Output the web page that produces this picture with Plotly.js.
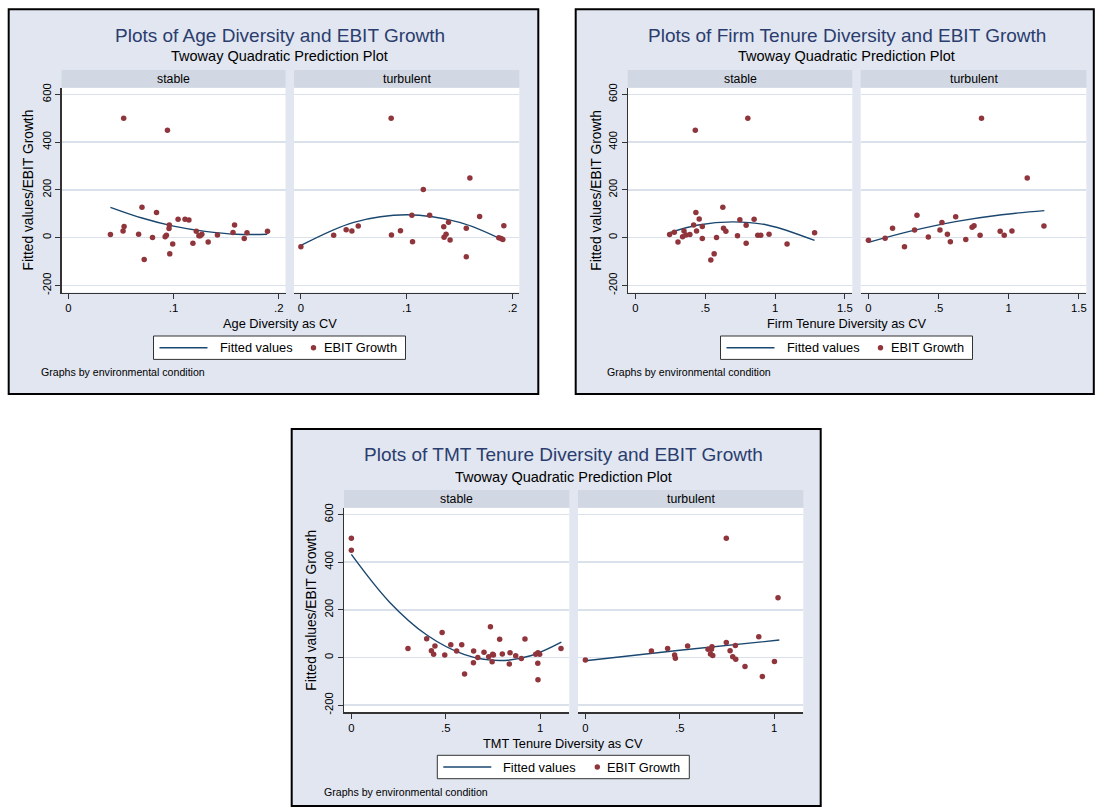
<!DOCTYPE html>
<html>
<head>
<meta charset="utf-8">
<script src="https://cdn.plot.ly/plotly-3.0.1.min.js"></script>
<style>
  html, body { margin: 0; padding: 0; background: #ffffff; }
  #chart { width: 1095px; height: 809px; }
</style>
</head>
<body>
<div id="chart"></div>
<script>
// ---------------- data ----------------
// Age diversity (CV) vs EBIT growth
const ageStableX = [0.040, 0.0526, 0.052, 0.053, 0.070, 0.0668, 0.0721, 0.0838, 0.080, 0.0942, 0.092, 0.0932, 0.096, 0.0957, 0.0992, 0.0964, 0.1043, 0.1109, 0.1146, 0.1216, 0.1184, 0.1241, 0.1269, 0.1254, 0.1329, 0.1417, 0.1565, 0.158, 0.1698, 0.1672, 0.1893];
const ageStableY = [13, 500, 28, 47, 127, 14, -92, 105, 0, 450, 4, 10, 53, 38, -27, -68, 77, 77, 74, 27, -24, 8, 14, 8, -18, 11, 21, 53, 20, -4, 27];
const ageStableFitX = [0.040, 0.070, 0.100, 0.130, 0.160, 0.189];
const ageStableFitY = [127, 82, 48, 26, 14, 14];

const ageTurbX = [0, 0.031, 0.0428, 0.0482, 0.0542, 0.0853, 0.0856, 0.0941, 0.1049, 0.1055, 0.1157, 0.1217, 0.135, 0.1395, 0.1353, 0.1372, 0.141, 0.1563, 0.1597, 0.1563, 0.1689, 0.187, 0.1892, 0.1908, 0.1918];
const ageTurbY = [-38, 10, 33, 28, 49, 500, 11, 29, 94, -17, 201, 94, 45, 64, 1, 14, -10, 39, 250, -80, 88, -1, -4, -8, 50];
const ageTurbFitX = [0, 0.05, 0.10, 0.15, 0.19];
const ageTurbFitY = [-33, 64, 96, 64, -8];

// Firm tenure diversity (CV) vs EBIT growth
const firmStableX = [0.245, 0.279, 0.305, 0.338, 0.348, 0.362, 0.39, 0.417, 0.429, 0.433, 0.438, 0.457, 0.479, 0.479, 0.54, 0.564, 0.581, 0.626, 0.631, 0.648, 0.731, 0.748, 0.793, 0.793, 0.805, 0.85, 0.876, 0.898, 0.957, 1.086, 1.283];
const firmStableY = [13, 22, -18, 4, 28, 11, 13, 53, 450, 105, 28, 78, 47, -4, -94, -68, 0, 127, 39, 27, 8, 75, 52, -24, 500, 77, 10, 10, 14, -27, 20];
const firmStableFitX = [0.245, 0.45, 0.70, 0.95, 1.283];
const firmStableFitY = [21, 53, 66, 52, -12];

const firmTurbX = [0, 0.119, 0.172, 0.257, 0.329, 0.346, 0.427, 0.51, 0.524, 0.563, 0.584, 0.622, 0.694, 0.739, 0.753, 0.796, 0.806, 0.939, 0.968, 1.023, 1.132, 1.251];
const firmTurbY = [-11, -3, 39, -38, 32, 94, 3, 32, 63, 14, -17, 87, -8, 43, 50, 10, 500, 27, 10, 28, 250, 49];
const firmTurbFitX = [0, 0.30, 0.62, 0.95, 1.254];
const firmTurbFitY = [-20, 27, 67, 96, 113];

// TMT tenure diversity (CV) vs EBIT growth
const tmtStableX = [0, 0, 0.30, 0.399, 0.424, 0.436, 0.443, 0.481, 0.495, 0.527, 0.558, 0.585, 0.60, 0.648, 0.647, 0.67, 0.703, 0.728, 0.737, 0.749, 0.746, 0.753, 0.786, 0.80, 0.837, 0.841, 0.871, 0.901, 0.92, 0.977, 0.988, 0.989, 0.989, 0.998, 1.111];
const tmtStableY = [500, 450, 38, 78, 28, 13, 48, 105, 10, 53, 27, 53, -69, 27, -22, 0, 22, 3, 129, 13, -18, 10, 76, 15, -27, 20, 7, -4, 77, 13, -24, -94, 20, 13, 38];
const tmtStableFitX = [0, 0.2, 0.4, 0.6, 0.785, 0.95, 1.113];
const tmtStableFitY = [432, 234, 94, 12, -13, 7, 64];

const tmtTurbX = [0, 0.35, 0.436, 0.473, 0.477, 0.542, 0.65, 0.663, 0.671, 0.668, 0.675, 0.747, 0.747, 0.767, 0.795, 0.781, 0.797, 0.846, 0.919, 0.938, 1.002, 1.021];
const tmtTurbY = [-11, 27, 38, 10, -3, 48, 34, 15, 45, 34, 8, 500, 63, 28, 50, 3, -8, -38, 87, -80, -17, 250];
const tmtTurbFitX = [0, 0.5, 1.028];
const tmtTurbFitY = [-14, 30, 73];

// ticks and labels
const yTickVals = [-200, 0, 200, 400, 600];
const yTickText = ['-200', '0', '200', '400', '600'];
const ageTickVals = [0, 0.1, 0.2];
const ageTickText = ['0', '.1', '.2'];
const firmTickVals = [0, 0.5, 1, 1.5];
const firmTickText = ['0', '.5', '1', '1.5'];
const tmtTickVals = [0, 0.5, 1];
const tmtTickText = ['0', '.5', '1'];
const conditions = ['stable', 'turbulent'];
const seriesNames = ['Fitted values', 'EBIT Growth'];
const panelTitles = ['Plots of Age Diversity and EBIT Growth', 'Plots of Firm Tenure Diversity and EBIT Growth', 'Plots of TMT Tenure Diversity and EBIT Growth'];
const xTitles = ['Age Diversity as CV', 'Firm Tenure Diversity as CV', 'TMT Tenure Diversity as CV'];
const subtitle = 'Twoway Quadratic Prediction Plot';
const yTitle = 'Fitted values/EBIT Growth';
const byNote = 'Graphs by environmental condition';

// ---------------- styling / geometry ----------------
const W = 1095, H = 809;
const FONT = 'Liberation Sans, Arial, Helvetica, sans-serif';
const BG = '#e1e6f0', STRIP = '#d2d8e3', GRID = '#dbe1eb';
const AXIS = '#333333', TITLE = '#2b3d6e';
const LINE = '#1a476f', DOT = '#90353b';
const px = v => v / W;
const py = v => 1 - v / H;

const panels = [
  { box: [8.7, 9.3, 538.3, 394], cx: 279.5, titleY: 35, subY: 56, stripTop: 70, top: 87.7, bottom: 292.5,
    cols: [[61.5, 285.5], [294, 519.3]], xRange: [-0.0065, 0.2064], tickvals: ageTickVals, ticktext: ageTickText,
    xTitleY: 323.3, legendY: 347.7, noteX: 39.3, noteY: 371.7, yTitleX: 28.3,
    series: [[ageStableX, ageStableY, ageStableFitX, ageStableFitY], [ageTurbX, ageTurbY, ageTurbFitX, ageTurbFitY]] },
  { box: [575.7, 9.3, 1093.8, 394], cx: 846.5, titleY: 35, subY: 56, stripTop: 70, top: 87.7, bottom: 292.5,
    cols: [[627.7, 852.3], [860.7, 1086.3]], xRange: [-0.055, 1.553], tickvals: firmTickVals, ticktext: firmTickText,
    xTitleY: 323.3, legendY: 347.7, noteX: 605, noteY: 371.7, yTitleX: 595.7,
    series: [[firmStableX, firmStableY, firmStableFitX, firmStableFitY], [firmTurbX, firmTurbY, firmTurbFitX, firmTurbFitY]] },
  { box: [291.7, 429, 820.7, 806], cx: 563.3, titleY: 454.3, subY: 476.7, stripTop: 490, top: 507.7, bottom: 712.3,
    cols: [[344, 569.3], [578, 803.3]], xRange: [-0.039, 1.155], tickvals: tmtTickVals, ticktext: tmtTickText,
    xTitleY: 743.3, legendY: 767, noteX: 321.7, noteY: 792.3, yTitleX: 310.7,
    series: [[tmtStableX, tmtStableY, tmtStableFitX, tmtStableFitY], [tmtTurbX, tmtTurbY, tmtTurbFitX, tmtTurbFitY]] }
];

const traces = [];
const shapes = [];
const annotations = [];
const layout = {
  width: W, height: H,
  margin: { l: 0, r: 0, t: 0, b: 0 },
  paper_bgcolor: '#ffffff',
  plot_bgcolor: 'rgba(0,0,0,0)',
  showlegend: false,
  font: { family: FONT, color: '#000000' },
  shapes: shapes,
  annotations: annotations
};

function text(str, x, y, size, opts) {
  annotations.push(Object.assign({
    text: str, xref: 'paper', yref: 'paper', x: px(x), y: py(y),
    xanchor: 'center', yanchor: 'middle', showarrow: false,
    font: { family: FONT, size: size, color: '#000000' }
  }, opts || {}));
}

panels.forEach((p, pi) => {
  // panel background and frame
  shapes.push({ type: 'rect', xref: 'paper', yref: 'paper', layer: 'below',
    x0: px(p.box[0]), x1: px(p.box[2]), y0: py(p.box[1]), y1: py(p.box[3]),
    fillcolor: BG, line: { color: '#000000', width: 2 } });

  text(panelTitles[pi], p.cx, p.titleY, 19, { font: { family: FONT, size: 19, color: TITLE } });
  text(subtitle, p.cx, p.subY, 14.5);
  text(xTitles[pi], p.cx, p.xTitleY, 12.8);
  text(yTitle, p.yTitleX, (p.top + p.bottom) / 2, 13.8, { textangle: -90 });
  text(byNote, p.noteX, p.noteY, 10.6, { xanchor: 'left' });

  p.cols.forEach((col, ci) => {
    const n = pi * 2 + ci + 1;
    const sfx = n === 1 ? '' : String(n);

    // white plot region and strip header
    shapes.push({ type: 'rect', xref: 'paper', yref: 'paper', layer: 'below',
      x0: px(col[0]), x1: px(col[1]), y0: py(p.top), y1: py(p.bottom),
      fillcolor: '#ffffff', line: { width: 0 } });
    shapes.push({ type: 'rect', xref: 'paper', yref: 'paper', layer: 'below',
      x0: px(col[0]), x1: px(col[1]), y0: py(p.stripTop), y1: py(p.top),
      fillcolor: STRIP, line: { width: 0 } });
    text(conditions[ci], (col[0] + col[1]) / 2, (p.stripTop + p.top) / 2 + 0.5, 12.3);

    layout['xaxis' + sfx] = {
      domain: [px(col[0]), px(col[1])], range: p.xRange, anchor: 'y' + sfx,
      tickmode: 'array', tickvals: p.tickvals, ticktext: p.ticktext,
      ticks: 'outside', ticklen: 5, tickwidth: 1, tickcolor: AXIS,
      showline: true, linecolor: AXIS, linewidth: 1.2,
      showgrid: false, zeroline: false, fixedrange: true,
      tickfont: { family: FONT, size: 11.3, color: '#000000' }
    };
    layout['yaxis' + sfx] = {
      domain: [py(p.bottom), py(p.top)], range: [-230, 628], anchor: 'x' + sfx,
      tickmode: 'array', tickvals: yTickVals, ticktext: yTickText, tickangle: -90,
      ticks: ci === 0 ? 'outside' : '', ticklen: 5, tickwidth: 1, tickcolor: AXIS,
      showticklabels: ci === 0, showline: ci === 0, linecolor: AXIS, linewidth: 1.2,
      showgrid: true, gridcolor: GRID, gridwidth: 1.6, zeroline: false, fixedrange: true,
      tickfont: { family: FONT, size: 11.3, color: '#000000' }
    };

    const s = p.series[ci];
    traces.push({
      type: 'scatter', mode: 'lines', name: seriesNames[0],
      x: s[2], y: s[3], xaxis: 'x' + sfx, yaxis: 'y' + sfx,
      line: { color: LINE, width: 1.4, shape: 'spline', smoothing: 1 },
      hoverinfo: 'skip'
    });
    traces.push({
      type: 'scatter', mode: 'markers', name: seriesNames[1],
      x: s[0], y: s[1], xaxis: 'x' + sfx, yaxis: 'y' + sfx,
      marker: { color: DOT, size: 5.5, line: { width: 0 } },
      cliponaxis: false
    });
  });

  // legend box for the panel
  const lx = p.cx, ly = p.legendY;
  shapes.push({ type: 'rect', xref: 'paper', yref: 'paper', layer: 'below',
    x0: px(lx - 126), x1: px(lx + 126), y0: py(ly - 11.7), y1: py(ly + 11.7),
    fillcolor: '#ffffff', line: { color: AXIS, width: 1 } });
  shapes.push({ type: 'line', xref: 'paper', yref: 'paper', layer: 'below',
    x0: px(lx - 120), x1: px(lx - 72), y0: py(ly), y1: py(ly),
    line: { color: LINE, width: 1.4 } });
  shapes.push({ type: 'circle', xref: 'paper', yref: 'paper', layer: 'below',
    x0: px(lx + 34 - 2.7), x1: px(lx + 34 + 2.7), y0: py(ly - 2.7), y1: py(ly + 2.7),
    fillcolor: DOT, line: { width: 0 } });
  text(seriesNames[0], lx - 62, ly, 12.8, { xanchor: 'left' });
  text(seriesNames[1], lx + 42, ly, 12.8, { xanchor: 'left' });
});

Plotly.newPlot('chart', traces, layout, { staticPlot: true, displayModeBar: false });
</script>
</body>
</html>
